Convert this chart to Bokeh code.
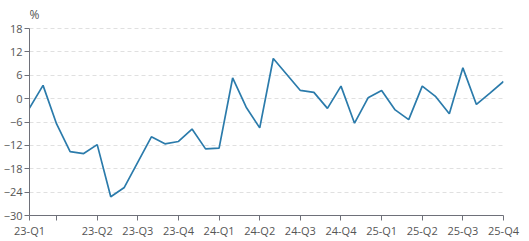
from bokeh.plotting import figure
from bokeh.models import Range1d, FixedTicker, Label
from bokeh.embed import file_html
from bokeh.resources import INLINE

# monthly index 0..35
values = [-2.4, 3.4, -6.5, -13.6, -14.1, -11.8, -25.2, -22.8, -16.3, -9.8,
          -11.6, -11.0, -7.8, -12.9, -12.7, 5.3, -2.2, -7.5, 10.3, 6.2,
          2.1, 1.6, -2.5, 3.2, -6.3, 0.2, 2.1, -2.9, -5.4, 3.2,
          0.5, -3.9, 7.9, -1.5, 1.4, 4.4]
x_index = list(range(len(values)))
tick_positions = [0, 2, 5, 8, 11, 14, 17, 20, 23, 26, 29, 32, 35]
tick_labels = ["23-Q1", "", "23-Q2", "23-Q3", "23-Q4", "24-Q1", "24-Q2",
               "24-Q3", "24-Q4", "25-Q1", "25-Q2", "25-Q3", "25-Q4"]
y_ticks = [-30, -24, -18, -12, -6, 0, 6, 12, 18]
unit_label = "%"

FONT = "Open Sans"
AXIS_COLOR = "#6E7079"
LABEL_COLOR = "#555555"

Y_MIN, Y_MAX = -30, 18
FRAME_BOTTOM_PX = 215
TOP_PAD_PX = 28
y_top = Y_MAX + TOP_PAD_PX * (Y_MAX - Y_MIN) / (FRAME_BOTTOM_PX - TOP_PAD_PX)

p = figure(width=529, height=241, output_backend="svg", toolbar_location=None,
           x_range=Range1d(0, 35), y_range=Range1d(Y_MIN, y_top),
           min_border_left=26, min_border_right=26, min_border_top=0,
           min_border_bottom=241 - FRAME_BOTTOM_PX)
p.outline_line_color = None
p.background_fill_color = "white"
p.border_fill_color = "white"

p.line(x_index, values, line_color="#2b7bab", line_width=1.7)

# axes
p.xaxis.ticker = FixedTicker(ticks=tick_positions)
p.xaxis.major_label_overrides = {k: v for k, v in zip(tick_positions, tick_labels)}
p.yaxis.ticker = FixedTicker(ticks=y_ticks)
p.yaxis.bounds = (Y_MIN, Y_MAX)
for ax in (p.xaxis[0], p.yaxis[0]):
    ax.axis_line_color = AXIS_COLOR
    ax.major_tick_line_color = AXIS_COLOR
    ax.major_tick_out = 5
    ax.major_tick_in = 0
    ax.minor_tick_line_color = None
    ax.major_label_text_font = FONT
    ax.major_label_text_font_size = "11px"
    ax.major_label_text_color = LABEL_COLOR
    ax.major_label_standoff = 2

p.xgrid.visible = False
p.ygrid.ticker = FixedTicker(ticks=y_ticks)
p.ygrid.grid_line_color = "#e0e0e0"
p.ygrid.grid_line_dash = "4 3"
p.ygrid.grid_line_width = 1

p.add_layout(Label(x=0, y=Y_MAX, x_offset=0, y_offset=14, text=unit_label,
                   text_align="left", text_baseline="alphabetic",
                   text_font=FONT, text_font_size="12px",
                   text_color=LABEL_COLOR))

open("out.html", "w").write(file_html(p, INLINE))
